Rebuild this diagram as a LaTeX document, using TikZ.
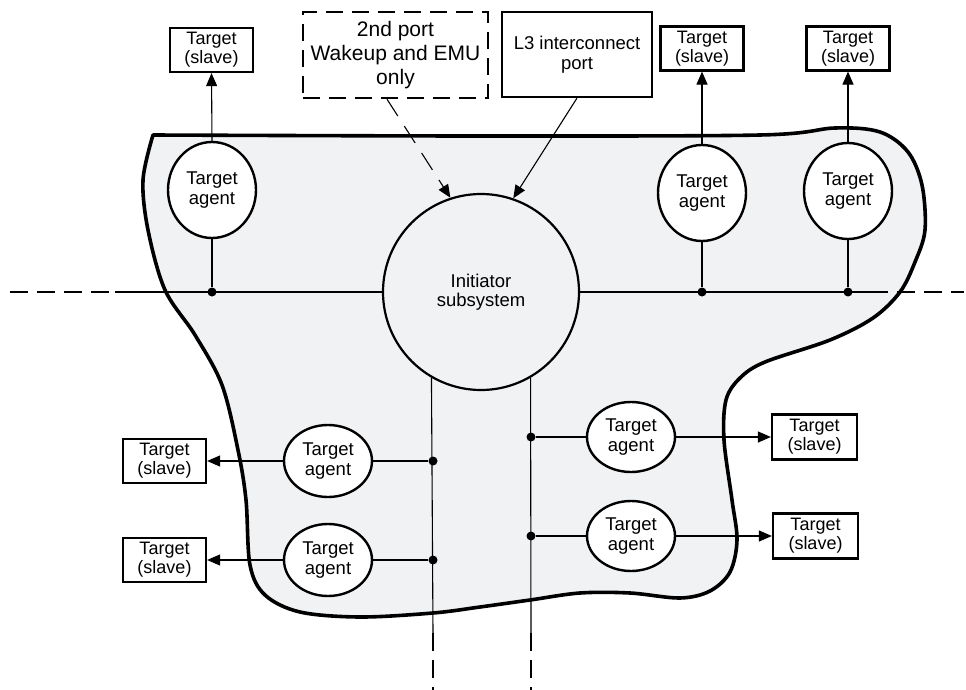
\documentclass[tikz,border=0pt]{standalone}
\usepackage{fontspec}
\setmainfont{Liberation Sans}
\usetikzlibrary{arrows.meta,shapes.geometric}
\definecolor{blobfill}{HTML}{F1F2F4}
\begin{document}
\begin{tikzpicture}[x=1pt,y=-1pt,
  blob/.style={draw=black,line width=3.6pt,fill=blobfill,line join=round},
  agent/.style={ellipse,draw,line width=2.4pt,fill=white,inner sep=0pt,minimum width=88pt,minimum height=96pt,align=center,font=\fontsize{18.5}{19.5}\selectfont},
  lagent/.style={agent,minimum width=88pt,minimum height=72pt},
  slavebox/.style={rectangle,draw,line width=2.2pt,fill=white,inner sep=0pt,minimum width=83pt,minimum height=44pt,align=center,font=\fontsize{18}{19}\selectfont},
  portbox/.style={rectangle,draw,line width=2.2pt,fill=white,inner sep=0pt,minimum width=150pt,minimum height=85pt,align=center,font=\fontsize{18.5}{19.5}\selectfont},
  dportbox/.style={rectangle,draw,line width=2.4pt,dash pattern=on 17pt off 9pt,fill=white,inner sep=0pt,minimum width=185pt,minimum height=86pt,align=center,font=\fontsize{21}{24}\selectfont},
  initiator/.style={circle,draw,line width=2.2pt,fill=blobfill,inner sep=0pt,minimum size=196pt,align=center,font=\fontsize{18.5}{18.5}\selectfont},
  wire/.style={line width=1.1pt},
  arr/.style={wire,-{Triangle[length=13pt,width=11pt]}},
  busdash/.style={wire,dash pattern=on 18pt off 9pt},
  junction/.style={circle,fill=black,inner sep=0pt,minimum size=9pt}]
\useasboundingbox (0,0) rectangle (966,690);

% blob
\draw[blob] plot[smooth,tension=0.55] coordinates {
 (153,135) (480,136) (760,135) (835,128) (880,132) (908,152) (922,185) (925,230)
 (915,262) (900,292) (873,318) (830,340) (765,362) (740,378) (726,400) (724,440)
 (732,500) (737,540) (730,572) (710,591) (680,598) (630,593) (580,593) (530,600)
 (480,607) (433,613) (360,617) (300,612) (265,595) (250,565) (246,500) (238,450)
 (222,385) (195,335) (165,290) (148,230) (143,180) (153,135)} -- cycle;

% initiator
\node[initiator] (init) at (481,292) {Initiator\\subsystem};

% ports
\node[dportbox] (db) at (395.5,55) {2nd port\\Wakeup and EMU\\only};
\node[portbox] (l3) at (577,54.5) {L3 interconnect\\port};

% agents and slaves
\node[agent] (a1) at (212,190) {Target\\agent};
\node[agent] (a2) at (702,193) {Target\\agent};
\node[agent] (a3) at (848,191) {Target\\agent};
\node[slavebox] (s1) at (211.5,50) {Target\\(slave)};
\node[slavebox] (s2) at (702,48.5) {Target\\(slave)};
\node[slavebox] (s3) at (848,48.5) {Target\\(slave)};

\node[lagent] (a4) at (328,461) {Target\\agent};
\node[lagent] (a5) at (328,560) {Target\\agent};
\node[lagent,minimum height=70pt] (a6) at (631,437) {Target\\agent};
\node[lagent,minimum height=70pt] (a7) at (631,536) {Target\\agent};
\node[slavebox] (s4) at (164.5,461) {Target\\(slave)};
\node[slavebox] (s5) at (164.5,560) {Target\\(slave)};
\node[slavebox,minimum width=85pt,minimum height=45pt] (s6) at (814.5,437) {Target\\(slave)};
\node[slavebox,minimum width=85pt,minimum height=45pt] (s7) at (815.5,536) {Target\\(slave)};

% bus coordinates and junctions
\coordinate (hl0) at (10,292);
\coordinate (hl1) at (115,292);
\coordinate (hr1) at (870,292);
\coordinate (hr0) at (964,292);
\coordinate (vl1) at (433,633);
\coordinate (vl0) at (433,690);
\coordinate (vr1) at (531,633);
\coordinate (vr0) at (531,690);
\node[junction] (j1) at (212,292) {};
\node[junction] (j2) at (702,292) {};
\node[junction] (j3) at (848,292) {};
\node[junction] (j4) at (433,461) {};
\node[junction] (j5) at (433,560) {};
\node[junction] (j6) at (531,437) {};
\node[junction] (j7) at (531,536) {};

% buses
\draw[busdash] (hl0) -- (hl1);
\draw[wire] (hl1) -- (init.west);
\draw[wire] (init.east) -- (hr1);
\draw[busdash] (hr1) -- (hr0);
\draw[wire] (init.240.5) -- (vl1);
\draw[busdash] (vl1) -- (vl0);
\draw[wire] (init.300.7) -- (vr1);
\draw[busdash] (vr1) -- (vr0);

% agent links
\draw[wire] (a1.south) -- (j1);
\draw[wire] (a2.south) -- (j2);
\draw[wire] (a3.south) -- (j3);
\draw[arr] (a1.north) -- (s1.south);
\draw[arr] (a2.north) -- (s2.south);
\draw[arr] (a3.north) -- (s3.south);
\draw[wire] (j4) -- (a4.east);
\draw[wire] (j5) -- (a5.east);
\draw[arr] (a4.west) -- (s4.east);
\draw[arr] (a5.west) -- (s5.east);
\draw[wire] (j6) -- (a6.west);
\draw[wire] (j7) -- (a7.west);
\draw[arr] (a6.east) -- (s6.west);
\draw[arr] (a7.east) -- (s7.west);

% port arrows
\draw[arr,dash pattern=on 20pt off 12pt] ([xshift=-8.5pt]db.south) -- (init.108);
\draw[arr] (l3.south) -- (init.71.4);
\end{tikzpicture}
\end{document}
